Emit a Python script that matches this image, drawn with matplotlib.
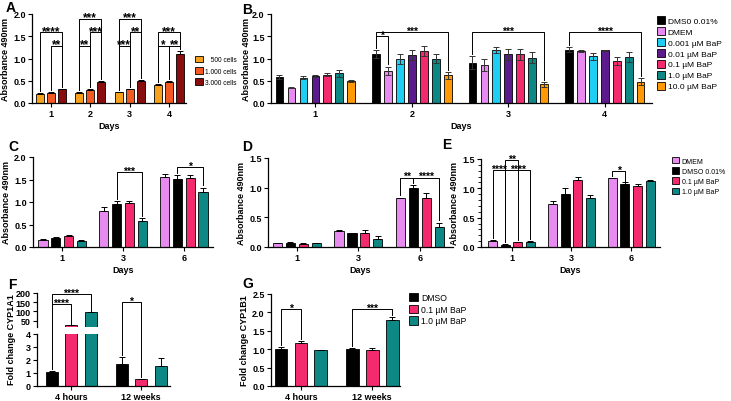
import numpy as np
import matplotlib
matplotlib.use("Agg")
import matplotlib.pyplot as plt
from matplotlib.patches import Patch
from matplotlib.lines import Line2D
from matplotlib.ticker import MultipleLocator, FormatStrFormatter

plt.rcParams['font.family'] = ['Liberation Sans', 'DejaVu Sans']
plt.rcParams['font.weight'] = 'bold'
plt.rcParams['axes.labelweight'] = 'bold'

# ---------------- data ----------------
# A
daysA = ['1', '2', '3', '4']
cellsA = ['   500 cells', '1.000 cells', '3.000 cells']
a500 = [0.21, 0.23, 0.24, 0.41]
a1000 = [0.23, 0.30, 0.31, 0.47]
a3000 = [0.31, 0.48, 0.50, 1.10]
a500_err = [0.01, 0.01, 0.01, 0.02]
a1000_err = [0.01, 0.01, 0.01, 0.02]
a3000_err = [0.01, 0.02, 0.02, 0.06]
# (day, series a, series b, height, label)
sigA = [(0, 0, 2, 1.59, '****'), (0, 1, 2, 1.29, '**'),
        (1, 0, 2, 1.89, '***'), (1, 0, 1, 1.29, '**'), (1, 1, 2, 1.59, '***'),
        (2, 0, 2, 1.89, '***'), (2, 0, 1, 1.29, '***'), (2, 1, 2, 1.59, '**'),
        (3, 0, 2, 1.59, '***'), (3, 0, 1, 1.29, '*'), (3, 1, 2, 1.29, '**')]

# B
daysB = ['1', '2', '3', '4']
treatB = ['DMS0 0.01%', 'DMEM', '0.001 µM BaP', '0.01 µM BaP', '0.1 µM BaP', '1.0 µM BaP', '10.0 µM BaP']
b_dmso = [0.58, 1.10, 0.91, 1.20]
b_dmem = [0.34, 0.73, 0.86, 1.17]
b_0001 = [0.57, 0.99, 1.19, 1.05]
b_001 = [0.60, 1.08, 1.09, 1.18]
b_01 = [0.64, 1.16, 1.09, 0.95]
b_1 = [0.67, 1.00, 1.02, 1.03]
b_10 = [0.50, 0.62, 0.42, 0.48]
b_dmso_err = [0.04, 0.09, 0.14, 0.05]
b_dmem_err = [0.01, 0.09, 0.13, 0.03]
b_0001_err = [0.03, 0.11, 0.07, 0.08]
b_001_err = [0.02, 0.11, 0.13, 0.01]
b_01_err = [0.04, 0.11, 0.12, 0.09]
b_1_err = [0.08, 0.09, 0.12, 0.11]
b_10_err = [0.02, 0.07, 0.05, 0.08]
sigB = [(1, 0, 1, 1.51, '*'), (1, 0, 6, 1.59, '***'),
        (2, 0, 6, 1.59, '***'), (3, 0, 6, 1.59, '****')]

# C, D, E
daysCDE = ['1', '3', '6']
treatCDE = ['DMEM', 'DMSO 0.01%', '0.1 µM BaP', '1.0 µM BaP']
c_dmem = [0.16, 0.80, 1.55]
c_dmso = [0.20, 0.96, 1.52]
c_01 = [0.24, 0.97, 1.53]
c_1 = [0.14, 0.58, 1.23]
c_dmem_err = [0.02, 0.08, 0.07]
c_dmso_err = [0.02, 0.06, 0.07]
c_01_err = [0.03, 0.06, 0.06]
c_1_err = [0.02, 0.06, 0.09]
sigC = [(1, 1, 3, 1.66, '***'), (2, 1, 3, 1.78, '*')]

d_dmem = [0.06, 0.27, 0.82]
d_dmso = [0.07, 0.23, 1.00]
d_01 = [0.05, 0.24, 0.82]
d_1 = [0.06, 0.14, 0.33]
d_dmem_err = [0.01, 0.01, 0.01]
d_dmso_err = [0.01, 0.01, 0.04]
d_01_err = [0.01, 0.05, 0.09]
d_1_err = [0.01, 0.04, 0.08]
sigD = [(2, 0, 1, 1.17, '**'), (2, 1, 3, 1.17, '****')]

e_dmem = [0.11, 0.74, 1.17]
e_dmso = [0.04, 0.91, 1.07]
e_01 = [0.08, 1.14, 1.04]
e_1 = [0.09, 0.84, 1.13]
e_dmem_err = [0.01, 0.04, 0.01]
e_dmso_err = [0.01, 0.10, 0.03]
e_01_err = [0.01, 0.05, 0.04]
e_1_err = [0.01, 0.05, 0.01]
sigE = [(0, 0, 1, 1.31, '****'), (0, 1, 2, 1.48, '**'), (0, 1, 3, 1.31, '****'),
        (2, 0, 1, 1.30, '*')]

# F, G
timesFG = ['4 hours', '12 weeks']
treatFG = ['DMSO', '0.1 µM BaP', '1.0 µM BaP']
f_dmso = [1.05, 1.72]
f_01 = [26.5, 0.52]
f_1 = [95.0, 1.57]
f_dmso_err = [0.13, 0.52]
f_01_err = [1.0, 0.05]
f_1_err = [3.0, 0.62]
sigF = [(0, 0, 1, 140, '****'), (0, 0, 2, 192, '****'), (1, 0, 1, 150, '*')]

g_dmso = [1.01, 1.00]
g_01 = [1.16, 0.98]
g_1 = [0.97, 1.78]
g_dmso_err = [0.05, 0.04]
g_01_err = [0.06, 0.04]
g_1_err = [0.02, 0.10]
sigG = [(0, 0, 1, 2.09, '*'), (1, 0, 2, 2.09, '***')]

# ---------------- colours ----------------
colA = ['#F7A11C', '#F25A22', '#8A0D0D']
BLACK = '#000000'
VIOLET = '#E88BF0'
CYAN = '#1ECFF3'
PURPLE = '#5B1B8D'
CRIMSON = '#F42A6F'
TEAL = '#0D8884'
ORANGE = '#FF9A05'
colB = [BLACK, VIOLET, CYAN, PURPLE, CRIMSON, TEAL, ORANGE]
colCDE = [VIOLET, BLACK, CRIMSON, TEAL]
colFG = [BLACK, CRIMSON, TEAL]

W, H = 731, 402
fig = plt.figure(figsize=(W / 100, H / 100), dpi=100)


def add_ax(l, t, r, b):
    return fig.add_axes([l / W, 1 - b / H, (r - l) / W, (b - t) / H])


def style(ax, fs=6.5):
    for s in ['top', 'right']:
        ax.spines[s].set_visible(False)
    for s in ['left', 'bottom']:
        ax.spines[s].set_linewidth(0.9)
    ax.tick_params(labelsize=fs, width=0.8, length=3, pad=1.5)


def xpos(g, i, n, pitch):
    return g + (i - (n - 1) / 2) * pitch


def grouped(ax, series, errs, colors, width, pitch, sym=False, ecol='k'):
    n = len(series)
    for i, (v, e, c) in enumerate(zip(series, errs, colors)):
        x = np.array([xpos(g, i, n, pitch) for g in range(len(v))])
        v = np.array(v)
        e = np.array(e)
        ax.bar(x, v, width, color=c, edgecolor='k', lw=0.6, zorder=2)
        yerr = e if sym else [np.zeros_like(e), e]
        ax.errorbar(x, v, yerr=yerr, fmt='none', ecolor=ecol, elinewidth=0.7,
                    capsize=2, capthick=0.7, zorder=3)


def star(ax, x, y, lab, fs, transform=None):
    kw = {} if transform is None else {'xycoords': transform}
    ax.annotate(lab, (x, y), xytext=(0, 1.0), textcoords='offset points',
                ha='center', va='center', fontsize=fs, fontweight='bold',
                annotation_clip=False, **kw)


def brackets(ax, sigs, series, errs, pitch, gap, fs=7.5):
    n = len(series)
    for g, a, b, y, lab in sigs:
        x1 = xpos(g, a, n, pitch)
        x2 = xpos(g, b, n, pitch)
        h1 = series[a][g] + errs[a][g] + gap
        h2 = series[b][g] + errs[b][g] + gap
        ax.plot([x1, x1, x2, x2], [h1, y, y, h2], color='k', lw=0.7,
                clip_on=False, zorder=4)
        star(ax, (x1 + x2) / 2, y, lab, fs)


def finish(ax, labels, xlim, ylim, ystep, xlabel=None, ylabel=None):
    ax.set_xticks(range(len(labels)))
    ax.set_xticklabels(labels)
    ax.set_xlim(*xlim)
    ax.set_ylim(*ylim)
    ax.set_yticks(np.arange(ylim[0], ylim[1] + 1e-9, ystep))
    ax.yaxis.set_major_formatter(FormatStrFormatter('%.1f'))
    if xlabel:
        ax.set_xlabel(xlabel, fontsize=6.5, labelpad=2)
    if ylabel:
        ax.set_ylabel(ylabel, fontsize=6.5, labelpad=2)


def panel_letter(x, y, s):
    fig.text(x / W, 1 - y / H, s, fontsize=10, fontweight='bold', ha='left', va='center')


def square_handles(colors):
    return [Patch(facecolor=c, edgecolor='k', lw=0.6) for c in colors]


def legend(colors, labels, x, y, size, spacing, hlen=1.0, hh=1.1, pad=0.4):
    fig.legend(square_handles(colors), labels, loc='upper left',
               bbox_to_anchor=(x / W, 1 - y / H), frameon=False,
               prop={'weight': 'normal', 'size': size}, handlelength=hlen,
               handleheight=hh, labelspacing=spacing, handletextpad=pad,
               borderpad=0, borderaxespad=0)


# ---------------- A ----------------
axA = add_ax(32, 15, 186, 104)
sA = [a500, a1000, a3000]
eA = [a500_err, a1000_err, a3000_err]
grouped(axA, sA, eA, colA, 0.21, 0.28)
brackets(axA, sigA, sA, eA, 0.28, 0.05, fs=8.5)
finish(axA, daysA, (-0.48, 3.43), (0, 2.0), 0.5, 'Days', 'Absorbance 490nm')
style(axA)
legend(colA, cellsA, 195, 57, 4.8, 0.55, hlen=1.2, hh=1.1, pad=0.35)
panel_letter(6, 8, 'A')

# ---------------- B ----------------
axB = add_ax(271, 15, 652, 104)
sB = [b_dmso, b_dmem, b_0001, b_001, b_01, b_1, b_10]
eB = [b_dmso_err, b_dmem_err, b_0001_err, b_001_err, b_01_err, b_1_err, b_10_err]
grouped(axB, sB, eB, colB, 0.08, 0.124, sym=True, ecol='#333333')
brackets(axB, sigB, sB, eB, 0.124, 0.05)
finish(axB, daysB, (-0.46, 3.49), (0, 2.0), 0.5, 'Days', 'Absorbance 490nm')
axB.yaxis.labelpad = 1
style(axB)
legend(colB, treatB, 657, 17, 6.0, 0.25, pad=0.3)
panel_letter(242, 10, 'B')

# ---------------- C ----------------
axC = add_ax(33, 158, 213, 248)
sC = [c_dmem, c_dmso, c_01, c_1]
eC = [c_dmem_err, c_dmso_err, c_01_err, c_1_err]
grouped(axC, sC, eC, colCDE, 0.15, 0.21)
brackets(axC, sigC, sC, eC, 0.21, 0.05)
finish(axC, daysCDE, (-0.48, 2.48), (0, 2.0), 0.5, 'Days', 'Absorbance 490nm')
style(axC)
panel_letter(8, 147, 'C')

# ---------------- D ----------------
axD = add_ax(268, 159, 453, 248)
sD = [d_dmem, d_dmso, d_01, d_1]
eD = [d_dmem_err, d_dmso_err, d_01_err, d_1_err]
grouped(axD, sD, eD, colCDE, 0.15, 0.21)
brackets(axD, sigD, sD, eD, 0.21, 0.04)
finish(axD, daysCDE, (-0.47, 2.54), (0, 1.5), 0.5, 'Days', 'Absorbance 490nm')
style(axD)
panel_letter(242, 147, 'D')

# ---------------- E ----------------
axE = add_ax(481, 160, 660, 248)
sE = [e_dmem, e_dmso, e_01, e_1]
eE = [e_dmem_err, e_dmso_err, e_01_err, e_1_err]
grouped(axE, sE, eE, colCDE, 0.15, 0.21)
brackets(axE, sigE, sE, eE, 0.21, 0.03)
finish(axE, daysCDE, (-0.51, 2.48), (0, 1.5), 0.5, 'Days', 'Absorbance 490nm')
axE.yaxis.set_minor_locator(MultipleLocator(0.1))
style(axE)
axE.tick_params(axis='y', which='minor', length=2, width=0.6)
legend(colCDE, treatCDE, 672, 158, 5.0, 0.38, hlen=1.05, hh=1.05, pad=0.35)
panel_letter(442, 145, 'E')

# ---------------- F (broken axis) ----------------
axFlo = add_ax(37, 335, 170, 387)
axFhi = add_ax(37, 294, 170, 328)
sF = [f_dmso, f_01, f_1]
eF = [f_dmso_err, f_01_err, f_1_err]
for ax in (axFlo, axFhi):
    grouped(ax, sF, eF, colFG, 0.17, 0.28)
    style(ax)
    ax.set_xlim(-0.49, 1.41)
axFlo.set_ylim(0, 4)
axFlo.set_yticks([0, 1, 2, 3, 4])
axFlo.set_xticks(range(len(timesFG)))
axFlo.set_xticklabels(timesFG)
axFhi.set_ylim(15, 200)
axFhi.set_yticks([50, 100, 150, 200])
axFhi.spines['bottom'].set_visible(False)
axFhi.set_xticks([])
fig.text(12 / W, 1 - 340 / H, 'Fold change CYP1A1', rotation=90, fontsize=6.5,
         fontweight='bold', ha='center', va='center')


def to_fig(ax, x, y):
    return fig.transFigure.inverted().transform(ax.transData.transform((x, y)))


nF = len(sF)
for g, a, b, y, lab in sigF:
    pts = []
    for i in (a, b):
        x = xpos(g, i, nF, 0.28)
        top = sF[i][g] + eF[i][g]
        if top < 4:
            pts.append(to_fig(axFlo, x, top + 0.15))
        else:
            pts.append(to_fig(axFhi, x, top + 6))
    p1, p2 = pts
    yt = to_fig(axFhi, 0, y)[1]
    fig.add_artist(Line2D([p1[0], p1[0], p2[0], p2[0]], [p1[1], yt, yt, p2[1]],
                          transform=fig.transFigure, color='k', lw=0.7))
    star(axFhi, (p1[0] + p2[0]) / 2, yt, lab, 7.5, transform='figure fraction')
panel_letter(8, 285, 'F')

# ---------------- G ----------------
axG = add_ax(271, 295, 400, 387)
sG = [g_dmso, g_01, g_1]
eG = [g_dmso_err, g_01_err, g_1_err]
grouped(axG, sG, eG, colFG, 0.18, 0.28)
brackets(axG, sigG, sG, eG, 0.28, 0.06)
finish(axG, timesFG, (-0.42, 1.39), (0, 2.5), 0.5, None, 'Fold change CYP1B1')
style(axG)
legend(colFG, treatFG, 409, 294, 6.2, 0.3, pad=0.4)
panel_letter(242, 284, 'G')

fig.savefig('out.png', dpi=100)
